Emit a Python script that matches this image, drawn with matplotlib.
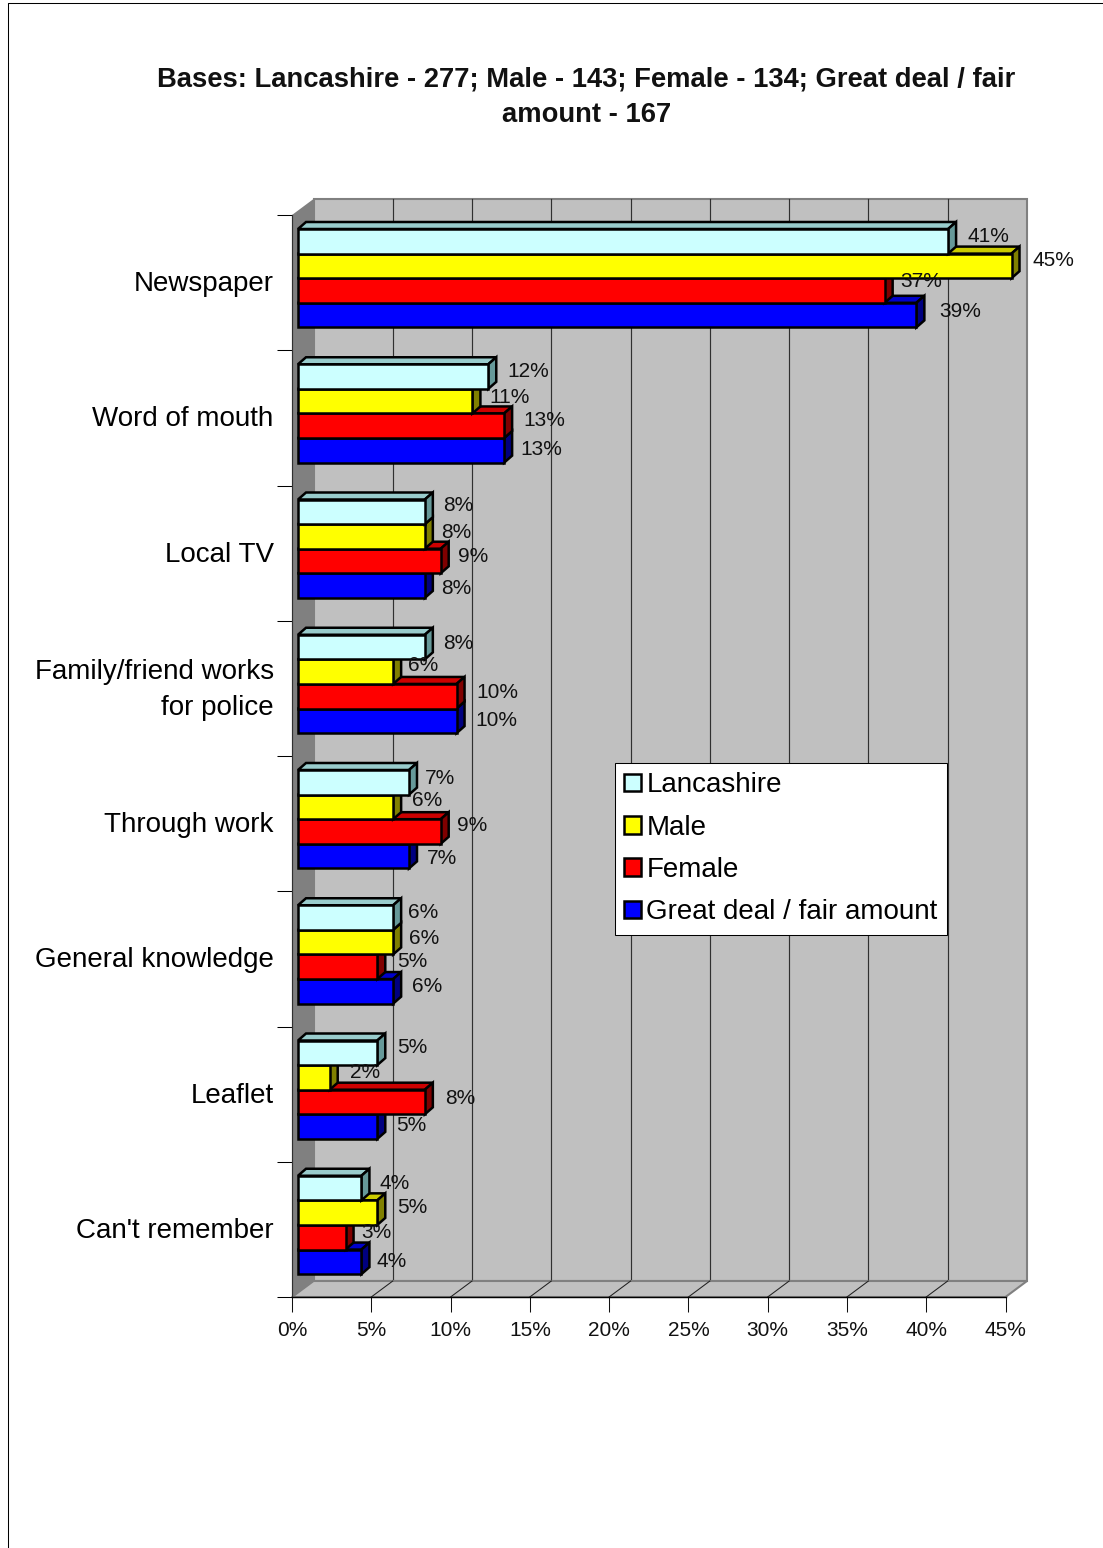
## Recreate 3D-look clustered bar chart of awareness sources

import numpy as np
import matplotlib
matplotlib.use('Agg')
import matplotlib.pyplot as plt
from matplotlib.lines import Line2D
from matplotlib.patches import Patch, Polygon

plt.rcParams['font.family'] = ['Liberation Sans', 'DejaVu Sans']

categories = ['Newspaper', 'Word of mouth', 'Local TV', 'Family/friend works\nfor police',
              'Through work', 'General knowledge', 'Leaflet', "Can't remember"]
series_names = ['Lancashire', 'Male', 'Female', 'Great deal / fair amount']
lancashire = [41, 12, 8, 8, 7, 6, 5, 4]
male = [45, 11, 8, 6, 6, 6, 2, 5]
female = [37, 13, 9, 10, 9, 5, 8, 3]
great_deal = [39, 13, 8, 10, 7, 6, 5, 4]
pct_ticks = [0, 5, 10, 15, 20, 25, 30, 35, 40, 45]

# colours: front, top, side
front_cols = ['#CCFFFF', '#FFFF00', '#FF0000', '#0000FF']
top_cols = ['#99CCCC', '#CCCC00', '#CC0000', '#0000CC']
side_cols = ['#669999', '#808000', '#800000', '#000080']

# label nudges in pixels from the bar end, read by eye (excel put them all over the place)
nudge_x = [[40, 42, 37, 44], [40, 37, 40, 37], [33, 31, 32, 31], [33, 30, 41, 40],
           [31, 34, 31, 33], [30, 31, 35, 34], [35, 35, 35, 34], [33, 35, 31, 30]]
nudge_y = [[-5, -5, -9, -4], [-5, -4, -5, -1], [-6, -4, -5, 3], [-4, -6, -4, 0],
           [-4, -6, -6, 2], [-5, -4, -5, -5], [-5, -5, -4, -1], [-5, -5, -5, 0]]

W, H = 1103, 1548
fig = plt.figure(figsize=(W / 100, H / 100), dpi=100)

# front plane of the chart box
left, right, top, bottom = 292, 1005.5, 215, 1297
ax = fig.add_axes([left / W, 1 - bottom / H, (right - left) / W, (bottom - top) / H])
ax.set_xlim(0, 45)
ax.set_ylim(len(categories), 0)
ax.patch.set_visible(False)

px = 45 / (right - left)      # data per pixel, x
py = len(categories) / (bottom - top)  # data per pixel, y

# box depth and bar depth, in pixels
box_dx, box_dy = 21.5 * px, 16 * py
bar_dx, bar_dy = 8 * px, 7 * py
bar_x0 = 6 * px
bar_h = 24.6 * py
group_y = 14 * py  # top of first bar below the band edge


def poly(pts, **kw):
    p = Polygon(pts, closed=True, clip_on=False, **kw)
    ax.add_patch(p)
    return p


n = len(categories)
xmax = pct_ticks[-1]
# walls and floor
poly([(box_dx, -box_dy), (xmax + box_dx, -box_dy), (xmax + box_dx, n - box_dy), (box_dx, n - box_dy)],
     facecolor='#C0C0C0', edgecolor='#808080', linewidth=1.5, zorder=1)
poly([(0, 0), (box_dx, -box_dy), (box_dx, n - box_dy), (0, n)],
     facecolor='#808080', edgecolor='none', zorder=1.2)
poly([(0, n), (box_dx, n - box_dy), (xmax + box_dx, n - box_dy), (xmax, n)],
     facecolor='#C0C0C0', edgecolor='#808080', linewidth=1.5, zorder=1.1)

for t in pct_ticks[1:-1]:
    ax.plot([t + box_dx, t + box_dx], [-box_dy, n - box_dy], color='#303030', lw=0.85,
            zorder=1.05, clip_on=False)
    ax.plot([t, t + box_dx], [n, n - box_dy], color='#202020', lw=0.75, zorder=1.3, clip_on=False)

# bars, bottom series first so each upper bar hides the top face of the one below
values = [lancashire, male, female, great_deal]
for s in range(3, -1, -1):
    vals = values[s]
    z = 3 + (3 - s)
    ys = np.arange(n) + group_y + (s + 0.5) * bar_h
    for y, v in zip(ys, vals):
        xe = bar_x0 + v
        y0, y1 = y - bar_h / 2, y + bar_h / 2
        poly([(bar_x0, y0), (bar_x0 + bar_dx, y0 - bar_dy), (xe + bar_dx, y0 - bar_dy), (xe, y0)],
             facecolor=top_cols[s], edgecolor='black', linewidth=1.8, joinstyle='miter', zorder=z)
        poly([(xe, y0), (xe + bar_dx, y0 - bar_dy), (xe + bar_dx, y1 - bar_dy), (xe, y1)],
             facecolor=side_cols[s], edgecolor='black', linewidth=1.8, joinstyle='miter', zorder=z)
    ax.barh(ys, vals, height=bar_h, left=bar_x0, color=front_cols[s], edgecolor='black',
            linewidth=1.8, zorder=z + 0.5, clip_on=False)

# data labels
for s, vals in enumerate(values):
    for i, v in enumerate(vals):
        ax.annotate('%d%%' % v, xy=(bar_x0 + v, i + group_y + (s + 0.5) * bar_h),
                    xytext=(nudge_x[i][s], -nudge_y[i][s]), textcoords='offset pixels',
                    ha='center', va='center', fontsize=15, color='#111111', zorder=20,
                    annotation_clip=False)

# axes
for sp in ['top', 'right']:
    ax.spines[sp].set_visible(False)
ax.spines['left'].set_linewidth(0.85)
ax.spines['left'].set_color('#303030')
ax.spines['bottom'].set_linewidth(1)
ax.spines['left'].set_zorder(2)
ax.spines['bottom'].set_zorder(2)
ax.set_xticks(pct_ticks)
ax.set_xticklabels(['%d%%' % t for t in pct_ticks], fontsize=15)
ax.tick_params(axis='x', length=10.8, width=0.75, pad=6.5, colors='#111111')
ax.get_xticklines()[-2].set_color('#808080')
ax.set_yticks(np.arange(n + 1))
ax.set_yticklabels([])
ax.set_yticks(np.arange(n) + 0.5 + 1.5 * py, minor=True)
ax.set_yticklabels(categories, minor=True, fontsize=20, ha='right', va='center', linespacing=1.48)
ax.tick_params(axis='y', which='major', length=10.8, width=0.75)
ax.tick_params(axis='y', which='minor', length=0, pad=13.2)

# legend
handles = [Patch(facecolor=c, edgecolor='black', linewidth=1.8) for c in front_cols]
leg = ax.legend(handles, series_names, loc='upper left',
                bbox_to_anchor=((614.5 - left) / (right - left), 1 - (762.5 - top) / (bottom - top)),
                fontsize=20, frameon=True, fancybox=False, framealpha=1, edgecolor='black',
                handlelength=0.6, handleheight=0.6, handletextpad=0.2, labelspacing=0.59,
                borderpad=0.35, borderaxespad=0)
leg.get_frame().set_linewidth(0.75)
leg.set_zorder(30)

# title
fig.text(586.5 / W, 1 - 97 / H, 'Bases: Lancashire - 277; Male - 143; Female - 134; Great deal / fair\namount - 167',
         ha='center', va='center', fontsize=19.7, fontweight='bold', linespacing=1.45, color='#111111')

# the outer page border, only top and left show
fig.add_artist(Line2D([8 / W, 8 / W, 1], [0, 1 - 3 / H, 1 - 3 / H], color='black', lw=0.75))

fig.savefig('out.png', dpi=100)
